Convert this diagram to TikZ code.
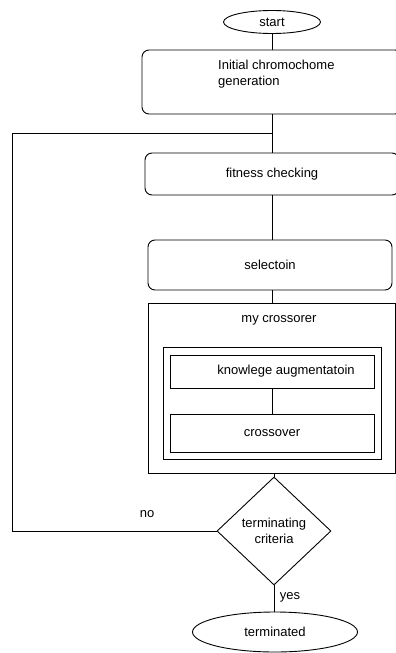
\documentclass[tikz,border=0pt]{standalone}
\usepackage{fontspec}
\setmainfont{Liberation Sans}
\usetikzlibrary{shapes.geometric}
\begin{document}
\begin{tikzpicture}[x=1pt,y=-1pt,
  every node/.style={font=\fontsize{13}{16}\selectfont, inner sep=0pt},
  ln/.style={draw=black, line width=0.9pt},
  rbox/.style={ln, rectangle, rounded corners=7pt},
  sbox/.style={ln, rectangle},
  oval/.style={ln, ellipse},
  dec/.style={ln, diamond},
  lbl/.style={}]
\clip (0,0) rectangle (396,653);
\fill[white] (0,0) rectangle (396,653);
% nodes
\node[oval, minimum width=97pt, minimum height=23pt] (start) at (272,22) {start};
\node[rbox, minimum width=260pt, minimum height=64pt] (init) at (272,82) {};
\node[lbl, anchor=north west, align=left] (initT) at (218,60) {Initial chromochome\\generation};
\node[rbox, minimum width=254pt, minimum height=42pt] (fit) at (272,174) {fitness checking};
\node[rbox, minimum width=244pt, minimum height=50pt] (sel) at (270,265) {selectoin};
\node[sbox, minimum width=247pt, minimum height=170pt] (outer) at (271.5,388) {};
\node[lbl] (outerT) at (279,320) {my crossorer};
\node[sbox, minimum width=218pt, minimum height=112pt] (inner) at (272,403) {};
\node[sbox, minimum width=204pt, minimum height=33pt] (know) at (272,371.5) {\hspace*{28pt}knowlege augmentatoin};
\node[sbox, minimum width=204pt, minimum height=38pt] (cross) at (272,433) {crossover};
\node[dec, minimum width=114pt, minimum height=108pt, align=center] (crit) at (274,531) {terminating\\criteria};
\node[oval, minimum width=165pt, minimum height=40pt] (term) at (275,632) {terminated};
\node[lbl] (no) at (147,514) {no};
\node[lbl] (yes) at (290,597) {yes};
% connectors
\coordinate (J) at (272,133);
\coordinate (L1) at (12,133);
\coordinate (L2) at (12,531);
\draw[ln] (start.south) -- (init.north);
\draw[ln] (init.south) -- (fit.north);
\draw[ln] (fit.south) -- (fit.south |- sel.north);
\draw[ln] (sel.south -| fit.south) -- (fit.south |- outer.north);
\draw[ln] (know.south) -- (cross.north);
\draw[ln] (crit.north |- outer.south) -- (crit.north);
\draw[ln] (crit.south) -- (term.north -| crit.south);
\draw[ln] (crit.west) -- (L2) -- (L1) -- (J);
\end{tikzpicture}
\end{document}
